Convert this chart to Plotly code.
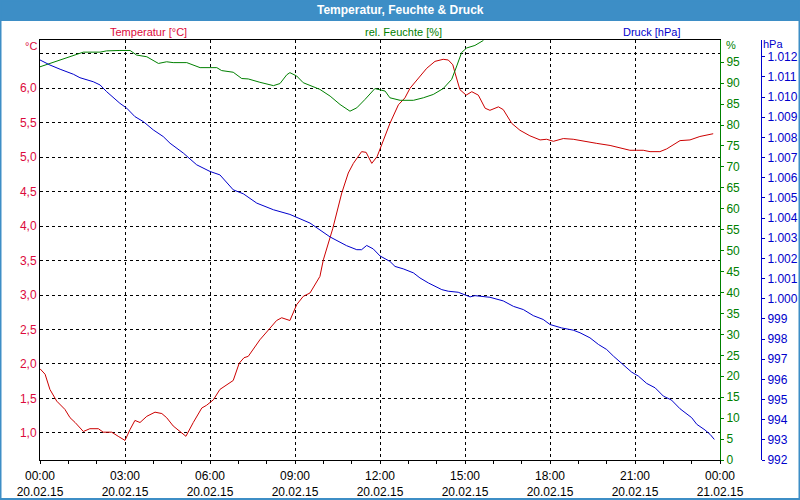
import pandas as pd
import plotly.graph_objects as go

# ---------------- data (hours since 20.02.15 00:00) ----------------
temp_hours = [0.00, 0.18, 0.35, 0.59, 0.88, 1.06, 1.24, 1.53, 1.76, 2.06, 2.23, 2.53, 2.76, 3.00,
              3.18, 3.35, 3.53, 3.77, 4.06, 4.30, 4.47, 4.70, 4.94, 5.15, 5.41, 5.71, 5.88, 6.12,
              6.35, 6.59, 6.82, 7.03, 7.20, 7.35, 7.76, 8.12, 8.35, 8.53, 8.82, 9.06, 9.29, 9.53,
              9.77, 9.88, 10.00, 10.18, 10.33, 10.65, 10.88, 11.06, 11.23, 11.35, 11.51, 11.71,
              11.90, 12.12, 12.35, 12.65, 12.88, 13.06, 13.41, 13.65, 13.94, 14.23, 14.41, 14.57,
              14.65, 14.82, 15.04, 15.24, 15.47, 15.71, 15.88, 16.18, 16.35, 16.65, 16.94, 17.29,
              17.65, 17.88, 18.12, 18.47, 18.82, 19.18, 19.65, 20.12, 20.47, 20.82, 21.06, 21.29,
              21.53, 21.88, 22.12, 22.35, 22.59, 22.94, 23.29, 23.76]
temp_values = [1.93, 1.85, 1.63, 1.46, 1.34, 1.22, 1.15, 1.02, 1.06, 1.06, 1.01, 1.01, 0.95, 0.89,
               1.05, 1.18, 1.15, 1.24, 1.30, 1.28, 1.22, 1.10, 1.02, 0.95, 1.15, 1.36, 1.40, 1.48,
               1.63, 1.70, 1.76, 2.01, 2.09, 2.11, 2.35, 2.52, 2.63, 2.67, 2.63, 2.86, 2.98, 3.03,
               3.20, 3.27, 3.51, 3.75, 3.96, 4.48, 4.77, 4.91, 5.01, 5.08, 5.07, 4.91,
               5.01, 5.25, 5.49, 5.76, 5.86, 6.00, 6.17, 6.29, 6.39, 6.42, 6.41, 6.34,
               6.22, 5.98, 5.90, 5.95, 5.90, 5.71, 5.68, 5.73, 5.69, 5.49, 5.39, 5.31,
               5.25, 5.26, 5.23, 5.27, 5.26, 5.23, 5.20, 5.17, 5.13, 5.10, 5.10, 5.10,
               5.08, 5.08, 5.12, 5.18, 5.24, 5.25, 5.30, 5.34]

hum_hours = [0.00, 1.53, 2.12, 2.35, 2.82, 3.18, 3.41, 3.77, 4.18, 4.47, 4.70, 5.18, 5.65, 6.24,
             6.41, 6.82, 7.12, 7.35, 7.76, 8.24, 8.47, 8.71, 8.82, 9.06, 9.29, 9.65, 9.88, 10.24,
             10.59, 10.94, 11.18, 11.47, 11.82, 12.18, 12.35, 12.71, 13.18, 13.53, 13.88, 14.23,
             14.53, 14.71, 14.88, 15.06, 15.35, 15.65]
hum_values = [93.9, 97.4, 97.4, 97.7, 97.8, 97.8, 96.7, 96.3, 94.7, 95.1, 94.9, 94.9, 93.7, 93.7,
              93.0, 92.6, 91.1, 91.0, 90.2, 89.4, 89.9, 92.0, 92.5, 91.7, 90.1, 89.1, 88.5, 86.9,
              84.9, 83.3, 84.1, 86.1, 88.7, 88.1, 86.5, 85.9, 85.9, 86.5, 87.3, 88.7,
              90.9, 94.1, 97.3, 98.4, 99.0, 100.2]

press_hours = [0.00, 0.35, 0.71, 1.18, 1.41, 1.88, 2.12, 2.35, 2.82, 3.06, 3.35, 3.65, 4.00, 4.35,
               4.59, 5.06, 5.53, 6.00, 6.35, 6.82, 7.18, 7.65, 8.24, 8.82, 9.53, 9.82, 10.24, 10.82,
               11.18, 11.35, 11.53, 11.76, 12.00, 12.35, 12.53, 12.82, 13.18, 13.41, 13.71, 14.18,
               14.41, 14.76, 15.18, 15.35, 15.88, 16.35, 16.71, 17.06, 17.41, 17.76, 18.00, 18.41,
               18.82, 19.06, 19.41, 19.71, 20.00, 20.24, 20.59, 20.88, 21.12, 21.41, 21.71, 22.00,
               22.29, 22.59, 23.00, 23.18, 23.47, 23.65, 23.80]
press_values = [1011.84, 1011.59, 1011.38, 1011.13, 1010.96, 1010.76, 1010.60, 1010.27, 1009.69,
                1009.45, 1009.03, 1008.78, 1008.37, 1008.04, 1007.71, 1007.22, 1006.64, 1006.31,
                1006.14, 1005.40, 1005.20, 1004.74, 1004.41, 1004.18, 1003.75, 1003.46, 1003.06,
                1002.63, 1002.43, 1002.43, 1002.64, 1002.47, 1002.12, 1001.85, 1001.60, 1001.48,
                1001.28, 1001.03, 1000.78, 1000.45, 1000.37, 1000.32, 1000.09, 1000.15, 1000.07,
                999.89, 999.62, 999.46, 999.16, 998.97, 998.72, 998.55, 998.44, 998.31, 998.06,
                997.73, 997.48, 997.15, 996.74, 996.36, 996.16, 995.80, 995.58, 995.17, 994.97,
                994.54, 994.10, 993.77, 993.49, 993.27, 993.02]

x_tick_hours = [0, 3, 6, 9, 12, 15, 18, 21, 24]
x_tick_labels = ["00:00<br>20.02.15", "03:00<br>20.02.15", "06:00<br>20.02.15", "09:00<br>20.02.15",
                 "12:00<br>20.02.15", "15:00<br>20.02.15", "18:00<br>20.02.15", "21:00<br>20.02.15",
                 "00:00<br>21.02.15"]
temp_ticks = [1.0, 1.5, 2.0, 2.5, 3.0, 3.5, 4.0, 4.5, 5.0, 5.5, 6.0, 6.5]
temp_tick_labels = ["1,0", "1,5", "2,0", "2,5", "3,0", "3,5", "4,0", "4,5", "5,0", "5,5", "6,0", ""]
hum_ticks = list(range(0, 100, 5))
press_ticks = list(range(992, 1013))
press_tick_labels = [str(v) if v < 1000 else "1.%03d" % (v - 1000) for v in press_ticks]

base = pd.Timestamp("2015-02-20 00:00")
to_dt = lambda hrs: [base + pd.Timedelta(hours=h) for h in hrs]

RED_LINE = "#cc0000"
RED_TXT = "#dc0a3c"
GREEN = "#008000"
BLUE = "#0000cc"
FONT = "Liberation Sans"
FS = 11

# ---------------- geometry (pixels) ----------------
W, H = 800, 500
ML, MR, MT, MB = 40, 38, 40, 40
PW = W - ML - MR
PH = H - MT - MB
X_END = 720  # right edge of the plotting area
def px(x):
    return (x - ML) / PW
def py(y):
    return (H - MB - y) / PH

fig = go.Figure()
fig.add_trace(go.Scatter(x=to_dt(temp_hours), y=temp_values, mode="lines",
                         line=dict(color=RED_LINE, width=1), yaxis="y", name="Temperatur"))
fig.add_trace(go.Scatter(x=to_dt(hum_hours), y=hum_values, mode="lines",
                         line=dict(color=GREEN, width=1), yaxis="y2", name="rel. Feuchte"))
fig.add_trace(go.Scatter(x=to_dt(press_hours), y=press_values, mode="lines",
                         line=dict(color=BLUE, width=1), yaxis="y3", name="Druck"))

fig.update_layout(
    width=W, height=H, autosize=False,
    margin=dict(l=ML, r=MR, t=MT, b=MB, pad=0, autoexpand=False),
    paper_bgcolor="white", plot_bgcolor="white",
    showlegend=False,
    font=dict(family=FONT, size=FS, color="black"),
    xaxis=dict(
        domain=[0, px(X_END)], automargin=False,
        range=[base, base + pd.Timedelta(hours=24)],
        tickmode="array", tickvals=to_dt(x_tick_hours), ticktext=x_tick_labels,
        ticks="outside", ticklen=3, tickcolor="black", ticklabelstandoff=2,
        minor=dict(ticks="outside", ticklen=3, tickcolor="black", dtick=3600000,
                   tick0=base, showgrid=False),
        showline=True, linecolor="black", linewidth=1, mirror=True,
        showgrid=True, gridcolor="black", griddash="3px,3px", gridwidth=1,
        zeroline=False, tickfont=dict(size=12, color="black"),
    ),
    yaxis=dict(
        range=[0.606, 6.70], automargin=False,
        tickmode="array", tickvals=temp_ticks, ticktext=temp_tick_labels,
        ticks="", showline=True, linecolor="black", linewidth=1,
        showgrid=True, gridcolor="black", griddash="3px,3px", gridwidth=1,
        zeroline=False, tickfont=dict(size=12, color=RED_TXT),
    ),
    yaxis2=dict(
        range=[0, 100.3], overlaying="y", side="right", anchor="x", automargin=False,
        tickmode="array", tickvals=hum_ticks, ticktext=[str(v) for v in hum_ticks],
        ticks="outside", ticklen=3, tickcolor=GREEN,
        showline=True, linecolor=GREEN, linewidth=1,
        showgrid=False, zeroline=False, tickfont=dict(size=12, color=GREEN),
    ),
    yaxis3=dict(
        range=[992, 1012.83], overlaying="y", side="right", anchor="free", automargin=False,
        position=px(761),
        tickmode="array", tickvals=press_ticks, ticktext=press_tick_labels,
        ticks="outside", ticklen=3, tickcolor=BLUE,
        showline=True, linecolor=BLUE, linewidth=1,
        showgrid=False, zeroline=False, tickfont=dict(size=12, color=BLUE),
    ),
)

# title bar and frame
fig.add_shape(type="rect", xref="paper", yref="paper",
              x0=px(0), x1=px(W), y0=py(21), y1=py(0),
              fillcolor="#3d8ec6", line=dict(width=0), layer="below")
fig.add_shape(type="rect", xref="paper", yref="paper",
              x0=px(0.5), x1=px(W - 0.5), y0=py(H - 1), y1=py(0.5),
              fillcolor="rgba(0,0,0,0)", line=dict(color="#3d8ec6", width=2))

annotations = [
    dict(text="<b>Temperatur, Feuchte &amp; Druck</b>", x=px(400), y=py(10),
         font=dict(color="white", size=12)),
    dict(text="Temperatur [°C]", x=px(148.5), y=py(32), font=dict(color=RED_TXT, size=FS)),
    dict(text="rel. Feuchte [%]", x=px(403), y=py(32), font=dict(color=GREEN, size=FS)),
    dict(text="Druck [hPa]", x=px(651.5), y=py(32), font=dict(color=BLUE, size=FS)),
    dict(text="°C", x=px(31), y=py(46), font=dict(color=RED_TXT, size=FS)),
    dict(text="%", x=px(731), y=py(45), font=dict(color=GREEN, size=FS)),
    dict(text="hPa", x=px(773), y=py(44), font=dict(color=BLUE, size=FS)),
]
for a in annotations:
    fig.add_annotation(xref="paper", yref="paper", showarrow=False,
                       xanchor="center", yanchor="middle", **a)

fig.write_html("out.html")
